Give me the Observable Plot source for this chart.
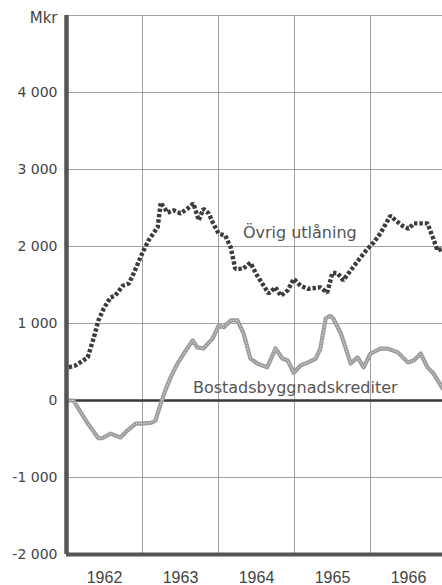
<!DOCTYPE html>
<html>
<head>
<meta charset="utf-8">
<script src="https://cdn.jsdelivr.net/npm/d3@7"></script>
<script src="https://cdn.jsdelivr.net/npm/@observablehq/plot@0.6"></script>
<style>
  html, body { margin: 0; padding: 0; background: #fff; }
  #chart svg { display: block; overflow: hidden; }
</style>
</head>
<body>
<div id="chart"></div>
<script>
// ---- Data ----
const ovrigT = [1962.03,1962.12,1962.28,1962.36,1962.42,1962.49,1962.58,1962.64,1962.74,1962.82,1962.87,1963.00,1963.08,1963.20,1963.24,1963.33,1963.41,1963.50,1963.59,1963.67,1963.74,1963.80,1963.87,1963.93,1964.00,1964.09,1964.16,1964.22,1964.32,1964.42,1964.51,1964.66,1964.75,1964.82,1964.91,1964.99,1965.08,1965.18,1965.34,1965.43,1965.50,1965.57,1965.64,1965.74,1965.84,1965.96,1966.04,1966.13,1966.26,1966.33,1966.42,1966.50,1966.57,1966.66,1966.75,1966.82,1966.88,1966.95];
const ovrigV = [430,455,560,820,1040,1195,1340,1360,1490,1520,1620,1920,2080,2250,2570,2440,2470,2430,2490,2560,2340,2490,2430,2300,2170,2140,1990,1710,1710,1790,1620,1390,1470,1360,1430,1580,1490,1450,1470,1400,1660,1650,1560,1690,1820,1970,2050,2170,2400,2340,2270,2230,2300,2300,2300,2120,1950,1970];

const bostadT = [1962.01,1962.09,1962.16,1962.28,1962.42,1962.47,1962.58,1962.71,1962.80,1962.91,1962.97,1963.11,1963.17,1963.24,1963.30,1963.37,1963.46,1963.57,1963.66,1963.72,1963.80,1963.92,1964.00,1964.07,1964.16,1964.25,1964.33,1964.42,1964.51,1964.64,1964.75,1964.84,1964.91,1964.99,1965.08,1965.18,1965.28,1965.34,1965.41,1965.47,1965.51,1965.61,1965.74,1965.83,1965.91,1966.00,1966.13,1966.22,1966.36,1966.49,1966.57,1966.66,1966.75,1966.83,1966.95];
const bostadV = [0,0,-110,-300,-490,-490,-430,-480,-390,-300,-300,-290,-260,-40,130,300,480,650,780,690,675,800,970,950,1040,1040,870,545,480,430,675,545,520,360,455,495,545,675,1065,1100,1065,870,480,560,430,610,675,675,625,495,520,610,430,350,155];

const yTicks = [-2000,-1000,0,1000,2000,3000,4000];
const gridY = [-2000,-1000,0,1000,2000,3000,4000,5000];
const yearBounds = [1963,1964,1965,1966];
const yearLabels = ["1962","1963","1964","1965","1966"];
const seriesLabels = ["Övrig utlåning","Bostadsbyggnadskrediter"];
const seriesLabelX = [1965.07, 1965.01];
const seriesLabelY = [2180, 170];

const ovrig = ovrigT.map((t,i)=>({t, v: ovrigV[i]}));
const bostad = bostadT.map((t,i)=>({t, v: bostadV[i]}));
const labels = seriesLabels.map((s,i)=>({s, x: seriesLabelX[i], y: seriesLabelY[i]}));

const fmt = d => d3.format(",")(d).replace(/,/g, " ").replace("−","-");

const plot = Plot.plot({
  width: 442,
  height: 585,
  marginLeft: 66,
  marginRight: 0,
  marginTop: 15,
  marginBottom: 31,
  style: {fontFamily: "'DejaVu Sans', sans-serif", background: "#fff"},
  x: {domain: [1962, 1967], range: [66, 446], axis: null},
  y: {domain: [-2000, 5000], range: [554, 15], axis: null},
  marks: [
    Plot.ruleY(gridY, {stroke: "#8a8a8a", strokeWidth: 0.8}),
    Plot.ruleX(yearBounds, {y1: -2000, y2: 5000, stroke: "#8a8a8a", strokeWidth: 0.8}),
    Plot.ruleY([0], {stroke: "#3a3a3a", strokeWidth: 2.6}),
    Plot.line(bostad, {x: "t", y: "v", stroke: "#9c9c9c", strokeWidth: 4.2, strokeLinejoin: "round"}),
    Plot.line(bostad, {x: "t", y: "v", stroke: "#ffffff", strokeWidth: 1, strokeLinecap: "butt", strokeDasharray: "1,1.6", strokeOpacity: 0.85}),
    Plot.line(ovrig, {x: "t", y: "v", stroke: "#3c3c3c", strokeWidth: 4.4, strokeLinecap: "butt", strokeLinejoin: "miter", strokeDasharray: "3.4,2"}),
    Plot.ruleX([1962], {y1: -2000, y2: 5000, stroke: "#555", strokeWidth: 4.5}),
    Plot.ruleY([-2000], {x1: 1962, x2: 1967, stroke: "#555", strokeWidth: 4}),
    Plot.axisY({ticks: yTicks, tickSize: 0, tickPadding: 9, tickFormat: fmt, fontSize: 14, fill: "#444", label: null}),
    Plot.text(["Mkr"], {x: 1962, y: 5000, dx: -9, dy: 3, textAnchor: "end", fontSize: 15, fill: "#444"}),
    Plot.text(yearLabels, {x: d => +d + 0.5, y: -2000, text: d => d, dy: 23, fontSize: 16, fill: "#444", fontFamily: "'Liberation Sans', sans-serif"}),
    Plot.text(labels, {x: "x", y: "y", text: "s", fontSize: 16, fill: "#555"})
  ]
});
document.getElementById("chart").appendChild(plot);
</script>
</body>
</html>
